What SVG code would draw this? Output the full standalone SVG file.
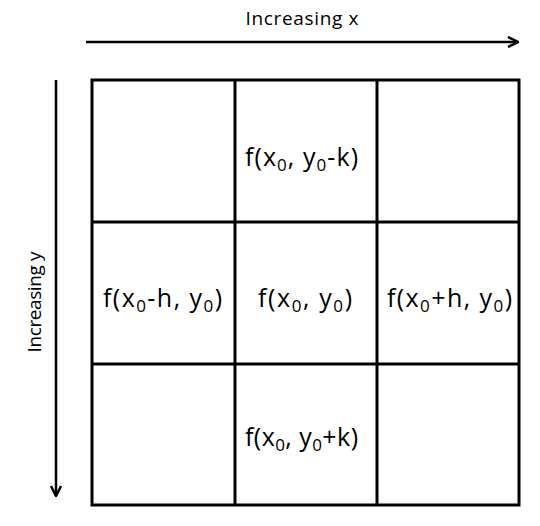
<svg xmlns="http://www.w3.org/2000/svg" width="540" height="526" viewBox="0 0 540 526">
<style>
.lbl{font-family:"Open Sans","Liberation Sans",sans-serif;font-size:25px;fill:#000}
.ax{font-family:"Open Sans","Liberation Sans",sans-serif;font-size:19px;fill:#000}
.sub{font-size:17px}
.grid{fill:none;stroke:#000;stroke-width:3}
.arrow{stroke:#000;stroke-width:2.5;fill:none}
</style>
<defs>
<marker id="ah" viewBox="0 0 10 10" refX="9" refY="5" markerWidth="5" markerHeight="5" orient="auto" markerUnits="strokeWidth">
<path d="M1,1 L9,5 L1,9" fill="none" stroke="#000" stroke-width="2"/>
</marker>
</defs>
<rect width="540" height="526" fill="#fff"/>
<g id="connectors">
<line class="arrow" x1="86" y1="42" x2="518" y2="42" marker-end="url(#ah)"/>
<line class="arrow" x1="56" y1="80" x2="56" y2="496" marker-end="url(#ah)"/>
</g>
<g id="axis-x"><text class="ax" x="302" y="25" text-anchor="middle" textLength="113">Increasing x</text></g>
<g id="axis-y"><text class="ax" transform="translate(41,302) rotate(-90)" text-anchor="middle" textLength="101">Increasing y</text></g>
<g id="grid">
<rect class="grid" x="92" y="80" width="427" height="425"/>
<line class="grid" x1="235" y1="80" x2="235" y2="505"/>
<line class="grid" x1="377" y1="80" x2="377" y2="505"/>
<line class="grid" x1="92" y1="222" x2="519" y2="222"/>
<line class="grid" x1="92" y1="364" x2="519" y2="364"/>
</g>
<g id="n-top"><text class="lbl" x="245" y="166" textLength="113">f(x<tspan class="sub" dy="5">0</tspan><tspan dy="-5">, y</tspan><tspan class="sub" dy="5">0</tspan><tspan dy="-5">-k)</tspan></text></g>
<g id="n-left"><text class="lbl" x="103" y="307" textLength="119">f(x<tspan class="sub" dy="5">0</tspan><tspan dy="-5">-h, y</tspan><tspan class="sub" dy="5">0</tspan><tspan dy="-5">)</tspan></text></g>
<g id="n-center"><text class="lbl" x="258" y="307" textLength="94">f(x<tspan class="sub" dy="5">0</tspan><tspan dy="-5">, y</tspan><tspan class="sub" dy="5">0</tspan><tspan dy="-5">)</tspan></text></g>
<g id="n-right"><text class="lbl" x="387" y="307" textLength="125">f(x<tspan class="sub" dy="5">0</tspan><tspan dy="-5">+h, y</tspan><tspan class="sub" dy="5">0</tspan><tspan dy="-5">)</tspan></text></g>
<g id="n-bottom"><text class="lbl" x="245" y="446" textLength="113">f(x<tspan class="sub" dy="5">0</tspan><tspan dy="-5">, y</tspan><tspan class="sub" dy="5">0</tspan><tspan dy="-5">+k)</tspan></text></g>
</svg>
